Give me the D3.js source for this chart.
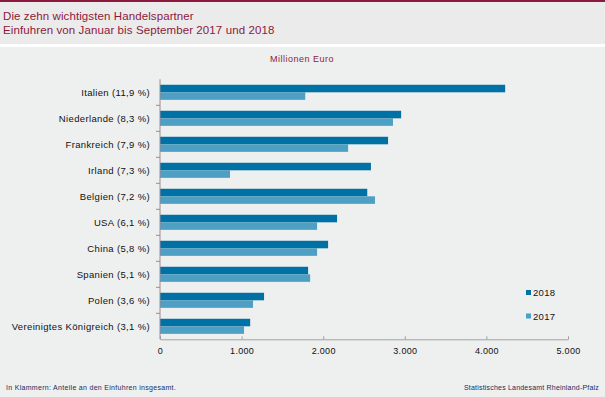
<!DOCTYPE html>
<html>
<head>
<meta charset="utf-8">
<script src="https://cdn.jsdelivr.net/npm/d3@7"></script>
<style>
  body { margin: 0; background: #eef0ef; }
  svg { display: block; font-family: "Liberation Sans", Arial, sans-serif; }
</style>
</head>
<body>
<div id="chart"></div>
<script>
// data
const countries = ["Italien (11,9 %)", "Niederlande (8,3 %)", "Frankreich (7,9 %)", "Irland (7,3 %)",
  "Belgien (7,2 %)", "USA (6,1 %)", "China (5,8 %)", "Spanien (5,1 %)", "Polen (3,6 %)",
  "Vereinigtes Königreich (3,1 %)"];
const values2018 = [4230, 2955, 2795, 2585, 2540, 2170, 2060, 1815, 1275, 1105];
const values2017 = [1780, 2855, 2305, 858, 2635, 1925, 1925, 1840, 1140, 1030];
const seriesNames = ["2018", "2017"];
const xTicks = [0, 1000, 2000, 3000, 4000, 5000];

const W = 605, H = 397;
const margin = {top: 79.3, left: 160, right: 605 - 568, bottom: 397 - 339.3};
const width = W - margin.left - margin.right,
      height = H - margin.top - margin.bottom;
const colors = {"2018": "#0071a4", "2017": "#4d9fc3"};
const red = "#8c1a3c";

const svg = d3.select("#chart").append("svg")
  .attr("width", W).attr("height", H);

// background pieces
svg.append("rect").attr("width", W).attr("height", H).attr("fill", "#eef0ef");
svg.append("rect").attr("width", W).attr("height", 44).attr("fill", "#ebebeb");
svg.append("rect").attr("y", 44).attr("width", W).attr("height", 3).attr("fill", "#ffffff");
svg.append("rect").attr("width", W).attr("height", 2).attr("fill", red);

// titles
svg.append("text").attr("x", 3).attr("y", 20).attr("fill", red)
  .style("font-size", "11.5px").style("letter-spacing", "0.1px").text("Die zehn wichtigsten Handelspartner");
svg.append("text").attr("x", 3).attr("y", 34).attr("fill", red)
  .style("font-size", "11.5px").style("letter-spacing", "0.1px").text("Einfuhren von Januar  bis September 2017 und 2018");
svg.append("text").attr("x", 302).attr("y", 62).attr("fill", red)
  .attr("text-anchor", "middle").style("font-size", "9px").style("letter-spacing", "0.5px").text("Millionen Euro");

let x = d3.scaleLinear().domain([0, 5000]).range([0, width]);
let y = d3.scaleBand().domain(countries).range([0, height])
  .paddingInner(0.42).paddingOuter(0.21);
let ySub = d3.scaleBand().domain(seriesNames).range([0, y.bandwidth()]);

let main = svg.append("g")
  .attr("transform", "translate(" + margin.left + "," + margin.top + ")");

// bars
seriesNames.forEach(function(s) {
  const vals = s === "2018" ? values2018 : values2017;
  main.append("g").selectAll("rect")
    .data(countries)
    .enter().append("rect")
    .attr("x", 0)
    .attr("y", function(d) { return y(d) + ySub(s); })
    .attr("width", function(d, i) { return x(vals[i]); })
    .attr("height", ySub.bandwidth())
    .attr("fill", colors[s]);
});

// x axis
let xAxis = main.append("g")
  .attr("transform", "translate(0," + height + ")")
  .call(d3.axisBottom(x).tickValues(xTicks).tickSizeInner(-3).tickSizeOuter(0)
    .tickFormat(function(d) { return d3.format(",")(d).replace(/,/g, "."); }));
xAxis.select(".domain").attr("stroke", "#a0a0a0");
xAxis.selectAll(".tick line").attr("stroke", "#a0a0a0");
xAxis.selectAll(".tick text").attr("dy", "0.71em").attr("y", 8)
  .attr("fill", "#111").style("font-size", "9px").style("letter-spacing", "0.3px")
  .style("font-family", "Liberation Sans, Arial, sans-serif");

// y axis: line plus ticks between categories
let yAxis = main.append("g");
yAxis.append("line").attr("x1", 0).attr("x2", 0).attr("y1", 0).attr("y2", height)
  .attr("stroke", "#9e8a90");
yAxis.selectAll(".sep").data(countries.slice(1)).enter().append("line")
  .attr("x1", -4).attr("x2", 0)
  .attr("y1", function(d) { return y(d) - y.step() * y.paddingInner() / 2; })
  .attr("y2", function(d) { return y(d) - y.step() * y.paddingInner() / 2; })
  .attr("stroke", "#9e8a90");
yAxis.selectAll(".lab").data(countries).enter().append("text")
  .attr("x", -10)
  .attr("y", function(d) { return y(d) + y.bandwidth() / 2; })
  .attr("dy", "0.35em")
  .attr("text-anchor", "end")
  .attr("fill", "#111")
  .style("font-size", "9.5px")
  .style("letter-spacing", "0.35px")
  .text(function(d) { return d; });

// legend
let legend = svg.append("g");
seriesNames.forEach(function(s, i) {
  let gy = 293 + i * 23.5;
  legend.append("rect").attr("x", 526).attr("y", gy - 3).attr("width", 5).attr("height", 5)
    .attr("fill", colors[s]);
  legend.append("text").attr("x", 533).attr("y", gy).attr("dy", "0.35em")
    .attr("fill", "#111").style("font-size", "9.5px").style("letter-spacing", "0.3px").text(s);
});

// footer
svg.append("text").attr("x", 6).attr("y", 390).attr("fill", "#1c2a5a")
  .style("font-size", "7px").style("letter-spacing", "0.3px").text("In Klammern:  Anteile an den Einfuhren  insgesamt.");
svg.append("text").attr("x", 599).attr("y", 390).attr("fill", "#1c2a5a")
  .attr("text-anchor", "end").style("font-size", "7px").style("letter-spacing", "0.2px").text("Statistisches Landesamt  Rheinland-Pfalz");
</script>
</body>
</html>
